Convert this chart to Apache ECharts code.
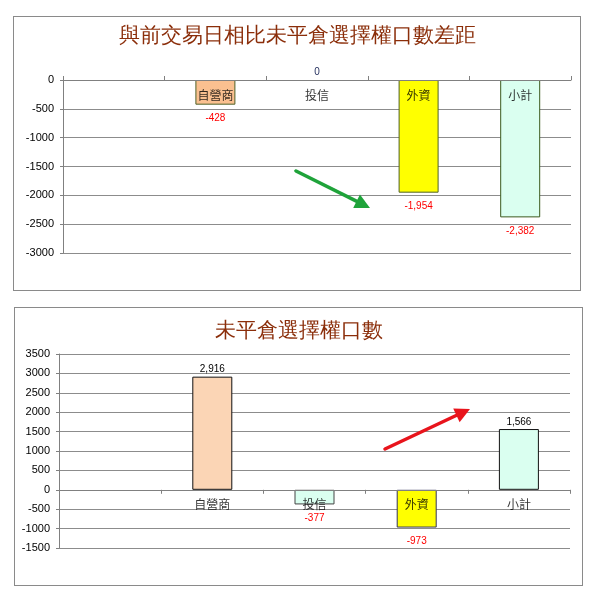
<!DOCTYPE html>
<html>
<head>
<meta charset="utf-8">
<script src="https://cdn.jsdelivr.net/npm/echarts@6/dist/echarts.min.js"></script>
<style>
body { margin: 0; background: #fff; }
#c1, #c2 { position: absolute; border: 1px solid #8a8a8a; box-sizing: border-box; }
#c1 { left: 13px; top: 16px; width: 568px; height: 275px; }
#c2 { left: 14px; top: 307px; width: 569px; height: 279px; }
</style>
</head>
<body>
<div id="c1"></div>
<div id="c2"></div>
<script>
var categories = ['', '自營商', '投信', '外資', '小計'];
var diffValues = ['-', -428, 0, -1954, -2382];
var oiValues = ['-', 2916, -377, -973, 1566];
var diffTicks = [-3000, 0, 500];
var oiTicks = [-1500, 3500, 500];

var title1 = '與前交易日相比未平倉選擇權口數差距';
var title2 = '未平倉選擇權口數';

var diffColors = [null, '#FAC090', '#FAC090', '#FFFF00', '#DAFFF0'];
var diffBorders = [null, '#4F6228', '#4F6228', '#4F6228', '#3A5A1E'];
var oiColors = [null, '#FBD5B5', '#DAFFF0', '#FFFF00', '#DAFFF0'];
var oiBorders = [null, '#111', '#444', '#33335A', '#111'];

function fmt(v) {
    return Number(v).toLocaleString('en-US');
}

function arrow(x1, y1, x2, y2, color) {
    var dx = x2 - x1, dy = y2 - y1;
    var len = Math.sqrt(dx * dx + dy * dy);
    var ux = dx / len, uy = dy / len;
    var hl = 15, hw = 7.5;
    var bx = x2 - ux * hl, by = y2 - uy * hl;
    return [{
        type: 'line',
        shape: { x1: x1, y1: y1, x2: bx + ux * 2, y2: by + uy * 2 },
        style: { stroke: color, lineWidth: 3.5, lineCap: 'round' },
        z: 100
    }, {
        type: 'polygon',
        shape: { points: [[x2, y2], [bx - uy * hw, by + ux * hw], [bx + uy * hw, by - ux * hw]] },
        style: { fill: color },
        z: 100
    }];
}

function buildData(values, colors, borders, zeroColor) {
    return values.map(function (v, i) {
        if (v === '-') return v;
        var lab;
        if (v > 0) lab = { position: 'top', distance: 2, color: '#000' };
        else if (v === 0) lab = { position: 'top', distance: 3, color: zeroColor || '#000' };
        else lab = { position: 'bottom', distance: 9, color: '#FF0000' };
        return {
            value: v,
            itemStyle: { color: colors[i], borderColor: borders[i], borderWidth: v === 0 ? 0 : 1 },
            label: lab
        };
    });
}

// category names sit just under the zero line
function nameData() {
    return categories.map(function (c) {
        return { value: 0, name: c };
    });
}

function buildOption(title, titleTop, grid, ticks, data, tickInside, arrowArgs) {
    return {
        animation: false,
        title: {
            text: title,
            left: 'center',
            top: titleTop,
            textStyle: { fontFamily: 'serif', fontSize: 21, fontWeight: 'normal', color: '#8B2E0A' }
        },
        grid: grid,
        xAxis: {
            type: 'category',
            data: categories,
            z: 10,
            axisLine: { onZero: true, lineStyle: { color: '#808080', width: 1 } },
            axisTick: { show: true, inside: tickInside, length: 4, lineStyle: { color: '#808080' } },
            axisLabel: { show: false },
            splitLine: { show: false }
        },
        yAxis: {
            type: 'value',
            min: ticks[0],
            max: ticks[1],
            interval: ticks[2],
            axisLine: { show: true, lineStyle: { color: '#808080' } },
            axisTick: { show: true, length: 3, lineStyle: { color: '#808080' } },
            axisLabel: {
                color: '#000', fontSize: 11, margin: 9, fontFamily: 'Liberation Sans',
                formatter: function (v) { return String(v); }
            },
            splitLine: { lineStyle: { color: '#8c8c8c', width: 1 } }
        },
        series: [{
            type: 'bar',
            barWidth: 40,
            data: data,
            label: {
                show: true,
                fontSize: 10,
                fontFamily: 'Liberation Sans',
                formatter: function (p) { return fmt(p.value); }
            }
        }, {
            type: 'scatter',
            symbolSize: 0,
            silent: true,
            data: nameData(),
            z: 5,
            label: {
                show: true,
                position: 'bottom',
                distance: 9,
                color: '#000',
                fontSize: 12,
                fontFamily: 'Noto Sans CJK TC',
                formatter: function (p) { return p.name; }
            }
        }],
        graphic: arrow.apply(null, arrowArgs)
    };
}

var chart1 = echarts.init(document.getElementById('c1'));
chart1.setOption(buildOption(title1, 4,
    { left: 49, right: 9, top: 63, bottom: 37 },
    diffTicks,
    buildData(diffValues, diffColors, diffBorders, '#1F2A5A'),
    true,
    [282, 154, 356, 191, '#1FA33A']));

var chart2 = echarts.init(document.getElementById('c2'));
chart2.setOption(buildOption(title2, 8,
    { left: 44, right: 12, top: 46, bottom: 37 },
    oiTicks,
    buildData(oiValues, oiColors, oiBorders),
    false,
    [370, 141, 455, 101, '#E8141C']));
</script>
</body>
</html>
